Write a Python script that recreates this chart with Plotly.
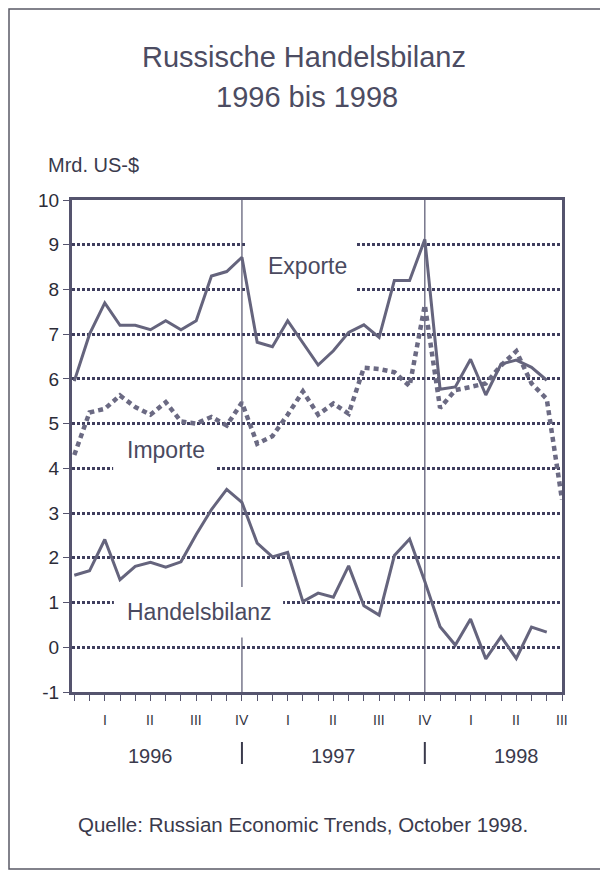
import plotly.graph_objects as go

# ---- data (monthly, Jan 1996 = 0) ----
exports = [5.95, 7.0, 7.7, 7.2, 7.2, 7.1, 7.3, 7.1, 7.3, 8.3, 8.4, 8.72,
           6.82, 6.72, 7.3, 6.8, 6.31, 6.63, 7.04, 7.21, 6.93, 8.2, 8.2, 9.12,
           5.77, 5.82, 6.44, 5.64, 6.33, 6.42, 6.26, 5.97]
imports = [4.3, 5.25, 5.33, 5.63, 5.37, 5.2, 5.48, 5.05, 5.0, 5.15, 4.96, 5.47,
           4.55, 4.72, 5.2, 5.72, 5.2, 5.45, 5.22, 6.25, 6.22, 6.15, 5.84, 7.65,
           5.35, 5.75, 5.82, 5.9, 6.3, 6.62, 5.9, 5.55, 3.3]
balance = [1.61, 1.71, 2.41, 1.51, 1.81, 1.9, 1.79, 1.91, 2.52, 3.08, 3.53, 3.24,
           2.33, 2.02, 2.12, 1.02, 1.21, 1.12, 1.82, 0.93, 0.72, 2.05, 2.42, 1.47,
           0.46, 0.05, 0.63, -0.26, 0.24, -0.25, 0.45, 0.34]
month_idx_exp = list(range(len(exports)))
month_idx_imp = list(range(len(imports)))
month_ticks = list(range(33))
quarter_pos = [2, 5, 8, 11, 14, 17, 20, 23, 26, 29, 32]
quarter_labels = ["I", "II", "III", "IV", "I", "II", "III", "IV", "I", "II", "III"]
year_labels = ["1996", "1997", "1998"]
year_pos = [5, 17, 29]
year_breaks = [11, 23]
y_ticks = list(range(-1, 11))
y_tick_text = [str(v) for v in y_ticks]

# ---- geometry (reference pixel coords; page body has an 8px margin) ----
OFF = 8
W, H = 608 - OFF, 873 - OFF
L, R, T, B = 72, 562, 200, 692
def px(x): return (x - L) / (R - L)
def py(y): return (B - y) / (B - T)

line_col = "#65647d"
grid_col = "#3f3e5e"
axis_col = "#55546e"
text_col = "#3a3a4c"
font_fam = "Liberation Sans, Arial, sans-serif"

fig = go.Figure()
fig.add_trace(go.Scatter(x=month_idx_imp, y=imports, mode="lines",
                         line=dict(color="#6b6a83", width=4.5, dash="5px,4px"),
                         name="Importe", hoverinfo="skip"))
fig.add_trace(go.Scatter(x=month_idx_exp, y=exports, mode="lines",
                         line=dict(color=line_col, width=3), name="Exporte"))
fig.add_trace(go.Scatter(x=month_idx_exp, y=balance, mode="lines",
                         line=dict(color=line_col, width=3), name="Handelsbilanz"))

shapes = []
for xb in year_breaks:
    shapes.append(dict(type="line", xref="x", yref="y", x0=xb, x1=xb, y0=-1, y1=10,
                       line=dict(color=axis_col, width=1.2), layer="between"))
shapes.append(dict(type="rect", xref="x", yref="y", x0=11.3, x1=18.5, y0=7.85, y1=9.15,
                   fillcolor="white", line=dict(width=0), layer="between"))
shapes.append(dict(type="rect", xref="x", yref="y", x0=2.55, x1=9.3, y0=3.88, y1=4.12,
                   fillcolor="white", line=dict(width=0), layer="between"))
shapes.append(dict(type="rect", xref="x", yref="y", x0=2.6, x1=13.7, y0=0.22, y1=1.35,
                   fillcolor="white", line=dict(width=0), layer="between"))
for xb in year_breaks:
    shapes.append(dict(type="line", xref="x", yref="paper", x0=xb, x1=xb,
                       y0=py(764), y1=py(742), line=dict(color=text_col, width=2)))
shapes.append(dict(type="rect", xref="paper", yref="paper", x0=px(9), x1=px(640),
                   y0=py(869), y1=py(9), line=dict(color="#5a5a66", width=1.5),
                   fillcolor="rgba(0,0,0,0)"))

def A(text, x, y, size, color=text_col, xref="paper", yref="paper", xanchor="center"):
    return dict(text=text, x=x, y=y, xref=xref, yref=yref, xanchor=xanchor,
                yanchor="middle", showarrow=False,
                font=dict(size=size, color=color, family=font_fam))

ann = []
ann.append(A("Russische Handelsbilanz", px(304), py(57), 29, "#4c4c62"))
ann.append(A("1996 bis 1998", px(307), py(97), 29, "#4c4c62"))
ann.append(A("Mrd. US-$", px(46), py(165), 20, xanchor="left"))
for q, lab in zip(quarter_pos, quarter_labels):
    ann.append(A(lab, q, py(720), 14, "#33333f", xref="x"))
for yp, lab in zip(year_pos, year_labels):
    ann.append(A(lab, yp, py(756), 20, xref="x"))
ann.append(A("Exporte", 12.6, 8.53, 23, "#4a4a60", "x", "y", "left"))
ann.append(A("Importe", 3.3, 4.4, 23, "#4a4a60", "x", "y", "left"))
ann.append(A("Handelsbilanz", 3.35, 0.79, 23, "#4a4a60", "x", "y", "left"))
ann.append(A("Quelle: Russian Economic Trends, October 1998.", px(303), py(824), 20.5))

fig.update_layout(
    width=W, height=H,
    margin=dict(l=L - OFF, r=W - (R - OFF), t=T - OFF, b=H - (B - OFF), pad=0),
    paper_bgcolor="white", plot_bgcolor="white",
    showlegend=False,
    shapes=shapes, annotations=ann,
    font=dict(family=font_fam, color=text_col),
)
fig.update_xaxes(range=[-0.15, 32], tickmode="array", tickvals=month_ticks,
                 showticklabels=False, ticks="outside", ticklen=6, tickwidth=1.3,
                 tickcolor=axis_col, showgrid=False, zeroline=False,
                 showline=True, linewidth=3, linecolor=axis_col, mirror=True)
fig.update_yaxes(range=[-1, 10], tickmode="array", tickvals=y_ticks, ticktext=y_tick_text,
                 ticks="outside", ticklen=6, tickwidth=1.3, tickcolor=axis_col,
                 tickfont=dict(size=19, color="#2c2c38", family=font_fam),
                 showgrid=True, gridcolor=grid_col, gridwidth=2.5, griddash="2.5px,2.5px",
                 zeroline=False, showline=True, linewidth=3, linecolor=axis_col, mirror=True)

fig.write_html("out.html")
